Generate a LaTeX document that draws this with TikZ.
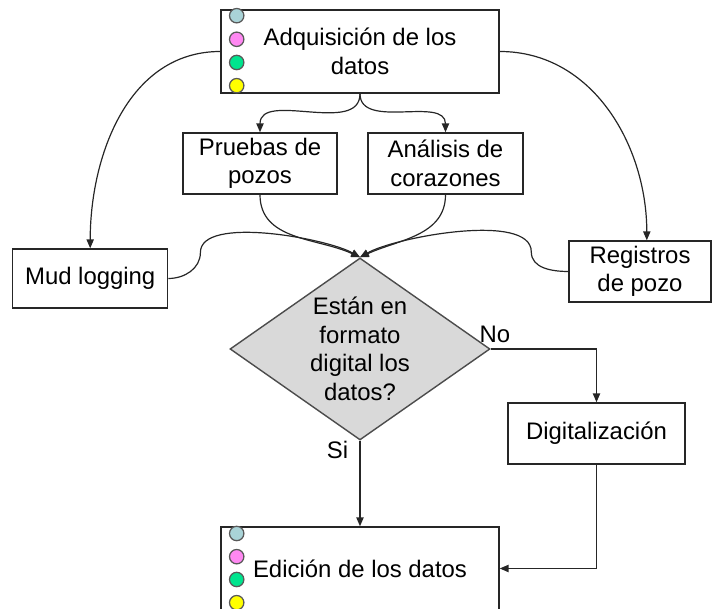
\documentclass[tikz,border=0pt]{standalone}
\usepackage{fontspec}
\setmainfont{Liberation Sans}
\usetikzlibrary{shapes.geometric, arrows.meta}

\definecolor{dotblue}{HTML}{A9D3D7}
\definecolor{dotpink}{HTML}{FF88F2}
\definecolor{dotgreen}{HTML}{00E48E}
\definecolor{dotyellow}{HTML}{FFFF00}

\begin{document}
\begin{tikzpicture}[every node/.style={font=\fontsize{17}{20.3}\selectfont},
	box/.style={draw=black!85, line width=1pt, rectangle, align=center},
	dec/.style={draw=black!70, line width=1pt, fill=black!15, diamond, aspect=1.43, inner sep=0pt, align=center, minimum width=6.5cm, minimum height=4.55cm},
	arr/.style={draw=black!85, line width=0.85pt, -{Triangle[length=2.2mm,width=1.8mm]}},
	dot/.style={draw=black!65, line width=0.9pt}]
	\useasboundingbox (0,0) rectangle (17.825,15.225);

	\node[box, minimum width=6.95cm, minimum height=2.075cm] (adq) at (9,13.9375) {Adquisición de los\\datos};
	\node[box, minimum width=3.85cm, minimum height=1.525cm] (pru) at (6.5,11.1375) {Pruebas de\\pozos};
	\node[box, minimum width=3.875cm, minimum height=1.525cm] (ana) at (11.1375,11.1375) {Análisis de\\corazones};
	\node[box, minimum width=3.875cm, minimum height=1.475cm] (mud) at (2.255,8.2625) {Mud logging};
	\node[box, minimum width=3.55cm, minimum height=1.525cm] (reg) at (16,8.4375) {Registros\\de pozo};
	\node[dec] (frm) at (9,6.5) {Están en\\formato\\digital los\\datos?};
	\node[box, minimum width=4.425cm, minimum height=1.525cm] (dig) at (14.9125,4.3875) {Digitalización};
	\node[box, minimum width=6.95cm, minimum height=2.075cm] (edi) at (9,1.0125) {Edición de los datos};
	\node (lno) at (12.375,6.875) {No};
	\node (lsi) at (8.4375,3.975) {Si};

	% colour dots on the data boxes
	\draw[dot, fill=dotblue] (adq.north west) ++(0.41,-0.16) circle (0.18);
	\draw[dot, fill=dotpink] (adq.north west) ++(0.41,-0.75) circle (0.18);
	\draw[dot, fill=dotgreen] (adq.north west) ++(0.41,-1.33) circle (0.18);
	\draw[dot, fill=dotyellow] (adq.north west) ++(0.41,-1.91) circle (0.18);
	\draw[dot, fill=dotblue] (edi.north west) ++(0.41,-0.18) circle (0.18);
	\draw[dot, fill=dotpink] (edi.north west) ++(0.41,-0.76) circle (0.18);
	\draw[dot, fill=dotgreen] (edi.north west) ++(0.41,-1.33) circle (0.18);
	\draw[dot, fill=dotyellow] (edi.north west) ++(0.41,-1.91) circle (0.18);

	\draw[arr] (adq.west) to[out=180,in=90] (mud.north);
	\draw[arr] (adq.east) to[out=0,in=90] ([xshift=1.7mm]reg.north);
	\draw[arr] (adq.south) to[out=-90,in=90] (pru.north);
	\draw[arr] (adq.south) to[out=-90,in=90] (ana.north);

	\draw[arr] (pru.south) to[out=-90,in=155] (frm.north);
	\draw[arr] (ana.south) to[out=-90,in=25] (frm.north);
	\draw[arr] (mud.east) to[out=0,in=-90] ++(0.8,0.65) to[out=90,in=150,looseness=0.6] (frm.north);
	\draw[arr] (reg.west) to[out=180,in=-90] ++(-0.925,0.49) to[out=90,in=30,looseness=0.6] (frm.north);

	\draw[arr] (frm.east) -| (dig.north);
	\draw[arr] (frm.south) -- (edi.north);
	\draw[arr] (dig.south) |- (edi.east);
\end{tikzpicture}
\end{document}
